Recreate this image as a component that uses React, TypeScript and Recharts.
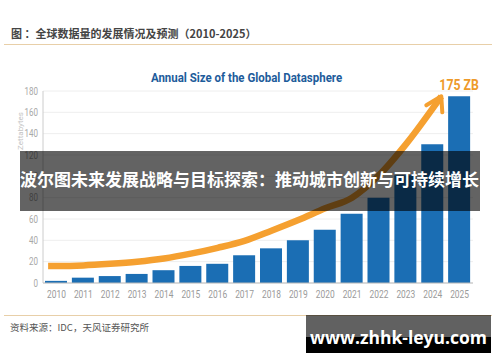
import React from 'react';
import { ComposedChart, Bar, Line, XAxis, YAxis, CartesianGrid, LabelList } from 'recharts';

const years = ['2010', '2011', '2012', '2013', '2014', '2015', '2016', '2017', '2018', '2019', '2020', '2021', '2022', '2023', '2024', '2025'];
const sizes = [2, 5, 6.5, 8.5, 12, 16, 18, 26, 32.5, 40, 50, 65, 80, 101, 130, 175];
const barLabels = ['', '', '', '', '', '', '', '', '', '', '', '', '', '', '', '175 ZB'];
const trendX = [2009.69, 2010, 2011, 2012, 2013, 2014, 2015, 2016, 2017, 2018, 2019, 2020, 2021, 2022, 2023, 2024.32];
const trendY = [16, 16, 16.5, 18, 20, 23, 27.5, 33, 39.5, 49, 59, 70, 80, 101, 130, 175];
const yTicks = [0, 20, 40, 60, 80, 100, 120, 140, 160, 180];

const data = years.map((y, i) => ({ year: y, size: sizes[i], label: barLabels[i] }));
const trend = trendX.map((x, i) => ({ x, v: trendY[i] }));

const ORANGE = '#F5A030';
const BLUE = '#1B6EB4';
const SANS = "Roboto, sans-serif";

const ArrowHead = (props: any) => {
  const { cx, cy, index } = props;
  if (index !== trend.length - 1 || cx == null) return <g key={`d${index}`} />;
  return (
    <path
      key={`d${index}`}
      d={`M${cx - 15},${cy + 9} L${cx},${cy} L${cx + 1},${cy + 16}`}
      fill="none"
      stroke={ORANGE}
      strokeWidth={4}
      strokeLinecap="round"
      strokeLinejoin="round"
    />
  );
};

const XTick = (props: any) => {
  const { x, y, payload } = props;
  return (
    <g transform={`translate(${x},${y})`}>
      <text transform="scale(0.8,1)" textAnchor="middle" dy="0.71em" fill="#9A9A9A" fontSize={10.5} fontFamily={SANS}>
        {payload.value}
      </text>
    </g>
  );
};

const YTick = (props: any) => {
  const { x, y, payload } = props;
  return (
    <g transform={`translate(${x},${y})`}>
      <text transform="scale(0.8,1)" textAnchor="end" dy="0.355em" fill="#A8A8A8" fontSize={10} fontFamily={SANS}>
        {payload.value}
      </text>
    </g>
  );
};

const TopLabel = (props: any) => {
  const { x, y, width, value } = props;
  if (!value) return null;
  return (
    <g transform={`translate(${x + width / 2},${y - 6})`}>
      <text transform="scale(0.82,1)" textAnchor="middle" fill="#EE9A2A" fontSize={15} fontWeight="bold" fontFamily={SANS}>
        {value}
      </text>
    </g>
  );
};

export default function App() {
  return (
    <div style={{ position: 'absolute', left: 0, top: 0, width: 500, height: 362, background: '#fff', overflow: 'hidden', fontFamily: "'Noto Sans CJK SC', sans-serif" }}>
      <div style={{ position: 'absolute', left: 11, top: 25, fontSize: 11, color: '#444', fontWeight: 600, whiteSpace: 'nowrap' }}>
        图 ：全球数据量的发展情况及预测（2010-2025）
      </div>
      <div style={{ position: 'absolute', left: 4, top: 43.5, width: 488, height: 1.5, background: '#E8CFA8' }} />
      <div style={{ position: 'absolute', left: 0, top: 0 }}>
        <ComposedChart width={500} height={362} data={data} margin={{ top: 91, right: 27, left: 8, bottom: 59 }}>
          <CartesianGrid vertical={false} stroke="#EEEEEE" xAxisId="cat" />
          <XAxis xAxisId="cat" dataKey="year" type="category" height={20} tickSize={0} tickMargin={8} axisLine={{ stroke: '#BBBBBB' }} tick={<XTick />} interval={0} />
          <XAxis xAxisId="num" dataKey="x" type="number" domain={[2009.5, 2025.5]} hide allowDataOverflow />
          <YAxis domain={[0, 180]} ticks={yTicks} width={35} tickSize={0} tickMargin={5} axisLine={{ stroke: '#CCCCCC' }} tick={<YTick />} interval={0} />
          <Bar xAxisId="cat" dataKey="size" fill={BLUE} barSize={22} isAnimationActive={false}>
            <LabelList dataKey="label" content={TopLabel} />
          </Bar>
          <Line xAxisId="num" data={trend} dataKey="v" type="monotone" stroke={ORANGE} strokeWidth={6.5} dot={ArrowHead} activeDot={false} isAnimationActive={false} />
        </ComposedChart>
      </div>
      <div style={{ position: 'absolute', left: 0, width: 494, top: 67, textAlign: 'center', lineHeight: '16px' }}>
        <span style={{ display: 'inline-block', transform: 'scaleX(0.85)', fontSize: 13.5, fontWeight: 'bold', color: '#1D5C9B', fontFamily: SANS, whiteSpace: 'nowrap' }}>
          Annual Size of the Global Datasphere
        </span>
      </div>
      <div style={{ position: 'absolute', left: 20, top: 131, transform: 'translate(-50%, -50%) rotate(-90deg)', fontSize: 8, color: '#C4C4C4', fontFamily: SANS, whiteSpace: 'nowrap' }}>
        Zettabytes
      </div>
      <div style={{ position: 'absolute', left: 20, top: 151, width: 460, height: 60, background: 'rgba(0,0,0,0.61)' }} />
      <div style={{ position: 'absolute', left: 20, top: 168, fontSize: 17, fontWeight: 'bold', color: '#fff', whiteSpace: 'nowrap', lineHeight: '22px' }}>
        波尔图未来发展战略与目标探索：推动城市创新与可持续增长
      </div>
      <div style={{ position: 'absolute', left: 4, top: 314.5, width: 488, height: 1.5, background: '#E8CFA8' }} />
      <div style={{ position: 'absolute', left: 10, top: 321, fontSize: 9.5, color: '#555', whiteSpace: 'nowrap', lineHeight: '12px' }}>
        资料来源：IDC，天风证券研究所
      </div>
      <div style={{ position: 'absolute', left: 306, top: 315, width: 185, height: 22, background: 'rgba(0,0,0,0.62)' }} />
      <div style={{ position: 'absolute', left: 306, top: 337, width: 185, height: 16, background: '#000' }} />
      <div style={{ position: 'absolute', left: 306, top: 324, width: 185, textAlign: 'center', fontSize: 17.5, fontWeight: 'bold', color: '#fff', fontFamily: "'Open Sans', sans-serif", lineHeight: '26px', whiteSpace: 'nowrap' }}>
        www.zhhk-leyu.com
      </div>
    </div>
  );
}
